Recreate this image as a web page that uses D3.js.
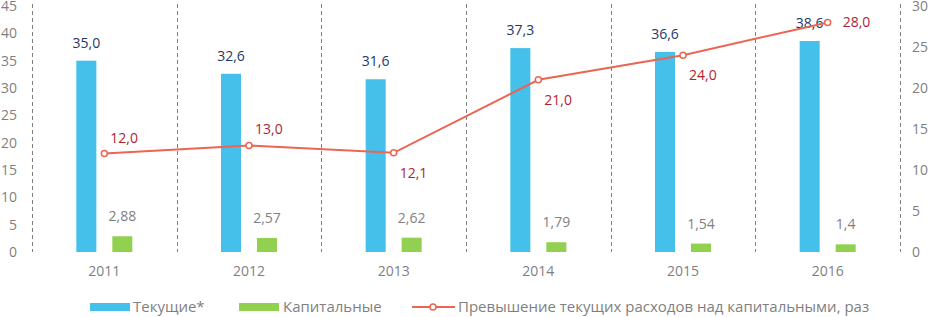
<!DOCTYPE html>
<html>
<head>
<meta charset="utf-8">
<script src="https://cdn.jsdelivr.net/npm/d3@7"></script>
<style>
  body { margin: 0; background: #fff; }
  svg { display: block; font-family: "Open Sans", "Noto Sans", sans-serif; }
</style>
</head>
<body>
<div id="chart"></div>
<script>
// chart values
const years = ["2011", "2012", "2013", "2014", "2015", "2016"];
const current = [35.0, 32.6, 31.6, 37.3, 36.6, 38.6];
const capital = [2.88, 2.57, 2.62, 1.79, 1.54, 1.4];
const ratio = [12.0, 13.0, 12.1, 21.0, 24.0, 28.0];
const currentLabels = ["35,0", "32,6", "31,6", "37,3", "36,6", "38,6"];
const capitalLabels = ["2,88", "2,57", "2,62", "1,79", "1,54", "1,4"];
const ratioLabels = ["12,0", "13,0", "12,1", "21,0", "24,0", "28,0"];
const leftTicks = [0, 5, 10, 15, 20, 25, 30, 35, 40, 45];
const rightTicks = [0, 5, 10, 15, 20, 25, 30];
const legendNames = ["Текущие*", "Капитальные", "Превышение текущих расходов над капитальными, раз"];

// where each ratio label sits relative to its point
const ratioLabelPos = ["above", "above", "below", "below", "below", "right"];

const width = 932, height = 317;
const colBlue = "#45C0EB", colGreen = "#92D050", colRed = "#EB6552";

const svg = d3.select("#chart").append("svg")
  .attr("width", width)
  .attr("height", height);

const x = d3.scaleBand()
  .domain(years)
  .range([32, 900])
  .padding(0);

const sub = d3.scaleBand()
  .domain(["cur", "cap"])
  .range([-28, 28])
  .paddingInner(0.444);

const yL = d3.scaleLinear().domain([0, 45]).range([252, 6]);
const yR = d3.scaleLinear().domain([0, 30]).range([252, 6]);

// dashed category separators
svg.append("g")
  .selectAll("line")
  .data(years.concat(["end"]))
  .join("line")
  .attr("x1", (d, i) => Math.round(x.range()[0] + i * x.step()) + 0.5)
  .attr("x2", (d, i) => Math.round(x.range()[0] + i * x.step()) + 0.5)
  .attr("y1", 4)
  .attr("y2", 252)
  .attr("stroke", "#808080")
  .attr("stroke-width", 1)
  .attr("stroke-dasharray", "4,3");

// left axis
const axL = svg.append("g")
  .attr("transform", "translate(17,0)")
  .call(d3.axisLeft(yL).tickValues(leftTicks).tickSize(0).tickPadding(0));
axL.select(".domain").remove();
axL.selectAll("text")
  .attr("fill", "#7f7f7f")
  .style("font-size", "14px")
  .style("font-family", "'Open Sans', sans-serif");

// right axis
const axR = svg.append("g")
  .attr("transform", "translate(912,0)")
  .call(d3.axisRight(yR).tickValues(rightTicks).tickSize(0).tickPadding(0));
axR.select(".domain").remove();
axR.selectAll("text")
  .attr("fill", "#7f7f7f")
  .style("font-size", "14px")
  .style("font-family", "'Open Sans', sans-serif");

// x axis labels
const axX = svg.append("g")
  .attr("transform", "translate(0,252)")
  .call(d3.axisBottom(x).tickSize(0).tickPadding(14));
axX.select(".domain").remove();
axX.selectAll("text")
  .attr("fill", "#7f7f7f")
  .style("font-size", "14px")
  .style("font-family", "'Open Sans', sans-serif");

const cx = d => x(d) + x.bandwidth() / 2;

// bars
svg.append("g").selectAll("rect")
  .data(years)
  .join("rect")
  .attr("x", (d) => cx(d) + sub("cur"))
  .attr("y", (d, i) => yL(current[i]))
  .attr("width", sub.bandwidth())
  .attr("height", (d, i) => yL(0) - yL(current[i]))
  .attr("fill", colBlue);

svg.append("g").selectAll("rect")
  .data(years)
  .join("rect")
  .attr("x", (d) => cx(d) + sub("cap"))
  .attr("y", (d, i) => yL(capital[i]))
  .attr("width", sub.bandwidth())
  .attr("height", (d, i) => yL(0) - yL(capital[i]))
  .attr("fill", colGreen);

// bar labels
svg.append("g").selectAll("text")
  .data(years)
  .join("text")
  .attr("x", d => cx(d) + sub("cur") + sub.bandwidth() / 2)
  .attr("y", (d, i) => yL(current[i]) - 13)
  .attr("text-anchor", "middle")
  .attr("fill", "#1F3864")
  .style("font-size", "14px")
  .text((d, i) => currentLabels[i]);

svg.append("g").selectAll("text")
  .data(years)
  .join("text")
  .attr("x", d => cx(d) + sub("cap") + sub.bandwidth() / 2)
  .attr("y", (d, i) => yL(capital[i]) - 15)
  .attr("text-anchor", "middle")
  .attr("fill", "#7f7f7f")
  .style("font-size", "14px")
  .text((d, i) => capitalLabels[i]);

// ratio line
const line = d3.line()
  .x(d => cx(d.year))
  .y(d => yR(d.v));
const pts = years.map((y, i) => ({ year: y, v: ratio[i], label: ratioLabels[i], pos: ratioLabelPos[i] }));

svg.append("path")
  .datum(pts)
  .attr("d", line)
  .attr("fill", "none")
  .attr("stroke", colRed)
  .attr("stroke-width", 2);

svg.append("g").selectAll("circle")
  .data(pts)
  .join("circle")
  .attr("cx", d => cx(d.year))
  .attr("cy", d => yR(d.v))
  .attr("r", 3)
  .attr("fill", "#fff")
  .attr("stroke", colRed)
  .attr("stroke-width", 1.5);

svg.append("g").selectAll("text")
  .data(pts)
  .join("text")
  .attr("x", d => cx(d.year) + (d.pos === "right" ? 15 : 6))
  .attr("y", d => yR(d.v) + (d.pos === "above" ? -11 : d.pos === "below" ? 25 : 5))
  .attr("fill", "#B01E35")
  .style("font-size", "14px")
  .text(d => d.label);

// legend
const legY = 307;
const leg = svg.append("g");
leg.append("rect").attr("x", 90).attr("y", legY - 4).attr("width", 40).attr("height", 8).attr("fill", colBlue);
leg.append("text").attr("x", 133).attr("y", legY + 5).text(legendNames[0]);
leg.append("rect").attr("x", 239).attr("y", legY - 4).attr("width", 40).attr("height", 8).attr("fill", colGreen);
leg.append("text").attr("x", 283).attr("y", legY + 5).text(legendNames[1]);
leg.append("line").attr("x1", 412).attr("x2", 455).attr("y1", legY).attr("y2", legY)
  .attr("stroke", colRed).attr("stroke-width", 2);
leg.append("circle").attr("cx", 433).attr("cy", legY).attr("r", 3)
  .attr("fill", "#fff").attr("stroke", colRed).attr("stroke-width", 1.5);
leg.append("text").attr("x", 458).attr("y", legY + 5).text(legendNames[2]);
leg.selectAll("text")
  .attr("fill", "#7f7f7f")
  .style("font-size", "15px");
</script>
</body>
</html>
